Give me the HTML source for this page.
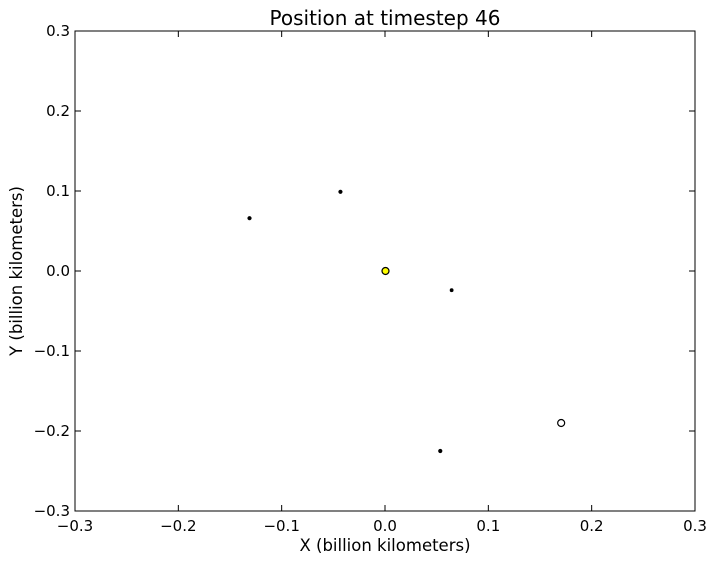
<!DOCTYPE html>
<html><head><meta charset="utf-8"><style>body{margin:0;background:#fff}svg{display:block;font-family:"DejaVu Sans","Liberation Sans",sans-serif}</style></head>
<body>
<svg id="chart" width="716" height="564" xmlns="http://www.w3.org/2000/svg"></svg>
<script>
const xTicks=[-0.3,-0.2,-0.1,0.0,0.1,0.2,0.3];
const yTicks=[-0.3,-0.2,-0.1,0.0,0.1,0.2,0.3];
const bodyNames=['sun','planet-1','planet-2','planet-3','planet-4','planet-5'];
const bodyX=[0,-0.1316,-0.0436,0.064,0.053,0.170];
const bodyY=[0,0.066,0.099,-0.024,-0.225,-0.19];
const bodyR=[3.5,1.5,1.5,1.3,1.5,3.5];
const bodyFill=['#ffff00','#000','#000','#000','#000','#fff'];
const L=75,R=695,T=31,B=511;
const sx=v=>L+(v+0.3)/0.6*(R-L);
const sy=v=>B-(v+0.3)/0.6*(B-T);
const svg=document.getElementById('chart');
const NS='http://www.w3.org/2000/svg';
function mk(tag,attrs,text){const e=document.createElementNS(NS,tag);for(const k in attrs)e.setAttribute(k,attrs[k]);if(text!=null)e.textContent=text;svg.appendChild(e);return e;}
const frame=mk('rect',{x:L,y:T,width:R-L,height:B-T,fill:'#fff',stroke:'#000','stroke-width':1});


xTicks.forEach(v=>{const x=sx(v);
mk('line',{x1:x,x2:x,y1:B,y2:B-6,stroke:'#000'});mk('line',{x1:x,x2:x,y1:T,y2:T+6,stroke:'#000'});
const t=mk('text',{x:x,y:B+20,'text-anchor':'middle','font-size':15},(v<0?'\u2212':'')+Math.abs(v).toFixed(1));

});
yTicks.forEach(v=>{const y=sy(v);
mk('line',{x1:L,x2:L+6,y1:y,y2:y,stroke:'#000'});mk('line',{x1:R,x2:R-6,y1:y,y2:y,stroke:'#000'});
const t=mk('text',{x:L-5,y:y+5,'text-anchor':'end','font-size':15},(v<0?'\u2212':'')+Math.abs(v).toFixed(1));

});
bodyX.forEach((v,i)=>{const c=mk('circle',{cx:sx(v)+0.5,cy:sy(bodyY[i]),r:bodyR[i],fill:bodyFill[i],stroke:'#000','stroke-width':1.2});

});
const tt=mk('text',{x:(L+R)/2,y:25,'text-anchor':'middle','font-size':20},'Position at timestep 46');


const xl=mk('text',{x:(L+R)/2,y:551,'text-anchor':'middle','font-size':16.5},'X (billion kilometers)');


const yl=mk('text',{x:0,y:0,'text-anchor':'middle','font-size':16.5,transform:`translate(22,${(T+B)/2}) rotate(-90)`},'Y (billion kilometers)');


</script>
</body></html>
